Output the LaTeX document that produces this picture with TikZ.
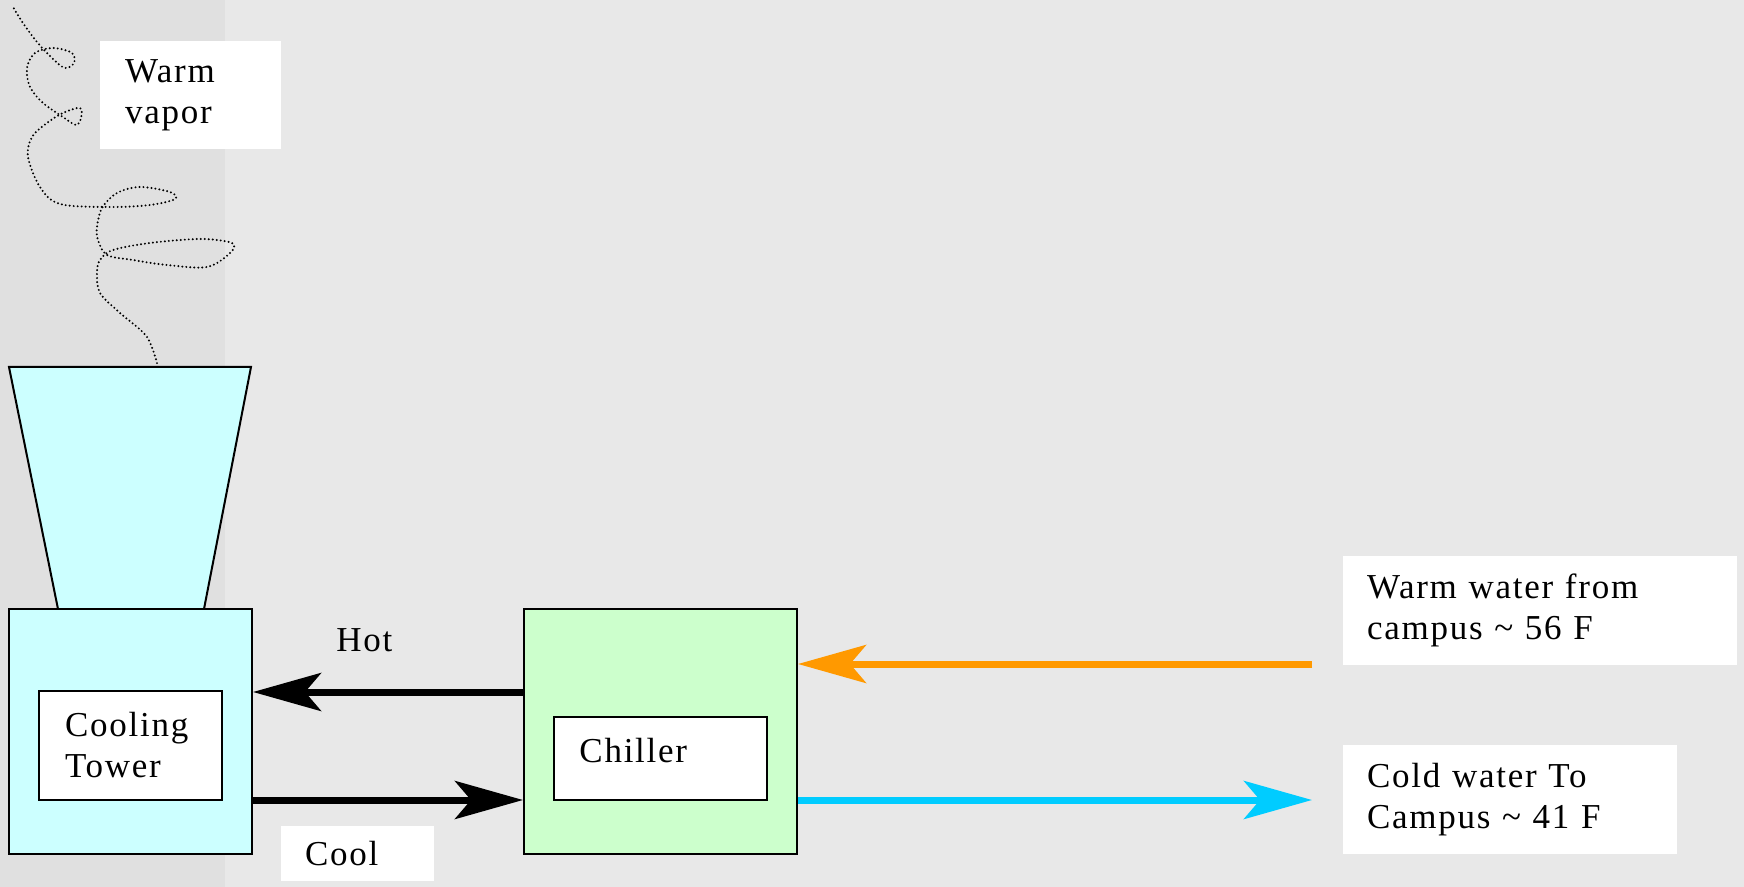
\documentclass[tikz,border=0pt]{standalone}
\usepackage{fontspec}
\setmainfont{Liberation Serif}[LetterSpace=5]
\usepackage{xcolor}
\usetikzlibrary{arrows.meta, calc, positioning}

\definecolor{bgc}{HTML}{E8E8E8}
\definecolor{stripc}{HTML}{E0E0E0}
\definecolor{towerc}{HTML}{CCFFFF}
\definecolor{chillc}{HTML}{CCFFCC}
\definecolor{orangec}{HTML}{FF9900}
\definecolor{bluec}{HTML}{00CCFF}

\begin{document}
\begin{tikzpicture}[x=0.5pt, y=-0.5pt,
        every node/.style={font=\fontsize{17.5pt}{20.5pt}\selectfont},
        box/.style={draw=black, line width=1pt, inner sep=0pt},
        whitebox/.style={fill=white, align=left, inner ysep=0pt},
        flow/.style={line width=3.5pt, -{Stealth[length=34pt, width=19pt, inset=8pt]}}]

                \useasboundingbox (0,0) rectangle (1744,887);
                \fill [bgc] (0,0) rectangle (1744,887);
                \fill [stripc] (0,0) rectangle (225,887);

                \coordinate (hotY) at (0,692);
                \coordinate (coolY) at (0,800);
                \coordinate (warmIn) at (1312,664);
                \coordinate (coldOut) at (1312,800);

                % vapor rising from the tower
                \draw [black, line width=1.1pt, dash pattern=on 0pt off 2pt, line cap=round]
                    plot [smooth, tension=0.55] coordinates {(158,367) (147,337) (120,313) (100,293) (97,273)
                    (100,260) (113,250) (150,243) (200,239) (232,243) (230,253) (207,267) (167,265)
                    (133,260) (107,255) (98,240) (97,227) (102,208) (117,193) (140,187) (170,192)
                    (175,199) (150,205) (110,207) (60,204) (40,187) (28,157) (32,137) (47,123)
                    (63,113) (80,108) (81,118) (76,125) (63,117) (43,103) (30,87) (27,68) (35,53)
                    (53,48) (72,53) (74,63) (65,68) (53,59) (37,42) (23,23) (13,7)};

                \draw [black, line width=1pt, fill=towerc] (58,609) -- (9,367) -- (251,367) -- (204,609) -- cycle;

                \node [box, fill=towerc, minimum width=121.5pt, minimum height=122.5pt] (tower) at (130.5,731.5) {};
                \node [box, fill=chillc, minimum width=136.5pt, minimum height=122.5pt] (chiller) at (660.5,731.5) {};

                \node [box, fill=white, align=left, inner xsep=13pt, text width=65.5pt, minimum width=91.5pt,
                    minimum height=54.5pt] (towerlbl) at (130.5,745.5) {Cooling\\Tower};
                \node [box, fill=white, minimum width=106.5pt, minimum height=41.5pt] (chillerlbl) at (660.5,758.5) {};
                \node [anchor=base west, inner sep=0pt] (chillertxt) at (579,762) {Chiller};

                \draw [flow] (chiller.west |- hotY) -- (tower.east |- hotY);
                \draw [flow] (tower.east |- coolY) -- (chiller.west |- coolY);
                \draw [flow, orangec] (warmIn) -- (chiller.east |- warmIn);
                \draw [flow, bluec] (chiller.east |- coldOut) -- (coldOut);

                \node [anchor=base west, inner sep=0pt] (hot) at (336,651) {Hot};
                \node [whitebox, inner xsep=12pt, text width=52.5pt, minimum width=76.5pt,
                    minimum height=27.5pt] (cool) at (357.5,853.5) {Cool};
                \node [whitebox, inner xsep=12.5pt, text width=65.5pt, minimum width=90.5pt,
                    minimum height=54pt] (vapor) at (190.5,95) {Warm\\vapor};
                \node [whitebox, inner xsep=12pt, text width=173pt, minimum width=197pt,
                    minimum height=54.5pt] (warmwater) at (1540,610.5) {Warm water from\\campus \textasciitilde{} 56 F};
                \node [whitebox, inner xsep=12pt, text width=143pt, minimum width=167pt,
                    minimum height=54.5pt] (coldwater) at (1510,799.5) {Cold water To\\Campus \textasciitilde{} 41 F};

            \end{tikzpicture}
\end{document}
